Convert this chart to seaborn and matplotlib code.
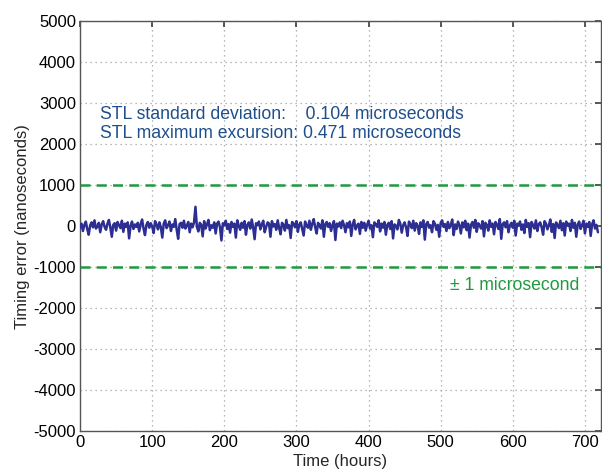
import numpy as np
import pandas as pd
import seaborn as sns
import matplotlib
matplotlib.use("Agg")
import matplotlib.pyplot as plt

# timing error (ns), one reading every 2 hours
hours_step = 2
timing_error = [
    -40, 60, -120, 30, 110, -80, -210, 20, 90, -30, 140, -60, -10, 80, -150, 40, 120, -20, -90, 60,
    150, -40, -260, 30, 70, -110, 100, 20, -50, 130, -140, 60, -20, 90, -300, 10, 110, -70, 40, -20,
    80, -130, 50, 160, -60, -220, 30, 100, -40, 70, -10, -170, 120, 40, -80, 90, -30, -280, 60, 140,
    -50, 20, 110, -120, 40, -20, 170, -90, -310, 50, 80, -40, 130, -60, 10, 100, -150, 60, -30, 90,
    471, -20, -130, 80, 30, -250, 120, -60, 40, 150, -100, 20, -40, 90, -180, 60, 110, -30, -350, 70,
    20, 130, -70, 50, -160, 100, -20, 60, -280, 140, 10, -90, 80, -40, 120, -210, 30, 90, -60, 160,
    -30, -320, 70, 20, 110, -80, 40, 130, -150, -20, 90, 60, -260, 120, -10, 50, -90, 140, -40, -200,
    80, 30, -110, 150, -50, 20, -290, 100, 60, -30, 120, -140, 40, 90, -70, -230, 110, 10, -40, 130,
    -90, 60, 170, -30, -180, 80, 20, -60, 140, -260, 50, 100, -20, 70, -120, 30, 120, -340, 60, -10,
    90, -50, 130, 20, -150, 70, -30, 110, -240, 40, 150, -80, 10, 60, -190, 100, -40, 80, -110, 30,
    130, -60, 20, -270, 90, 50, -20, 140, -130, 60, -40, 100, -210, 30, 80, -70, 120, -300, 40, 10,
    -80, 150, 60, -160, 20, 90, -30, -240, 110, 40, -50, 130, -110, 70, 10, -190, 90, -20, 140, -330,
    50, 100, -40, 20, -150, 120, 60, -90, 30, -260, 80, 140, -20, 50, -120, 100, -50, 30, 160, -220,
    40, -70, 110, 20, -180, 90, -30, 130, -100, 60, -280, 30, 100, -40, 150, -140, 70, 10, -60, 120,
    -250, 80, 30, -110, 140, -20, 60, -200, 100, 40, -70, 170, -310, 50, 90, -30, 120, -150, 20, 80,
    -40, 130, -230, 60, 10, 110, -90, 40, -170, 150, -20, 70, -270, 100, 30, -60, 140, -120, 50, 90,
    -30, -210, 120, 60, -80, 20, 160, -140, 50, -290, 90, 30, -50, 130, -100, 70, -230, 110, 10, 60,
    -120, 150, -40, 80, -260, 40, 110, -70, 20, 130, -180, 60, -20, 100, -240, 50, 140, -60, 30, -150,
]
limit_ns = [1000, -1000]
x_ticks = [0, 100, 200, 300, 400, 500, 600, 700]
y_ticks = [-5000, -4000, -3000, -2000, -1000, 0, 1000, 2000, 3000, 4000, 5000]
stats_lines = ["STL standard deviation:    0.104 microseconds",
               "STL maximum excursion: 0.471 microseconds"]
limit_label = "\u00b1 1 microsecond"

df = pd.DataFrame({"hours": np.arange(len(timing_error)) * hours_step,
                   "error": timing_error})

sns.set_theme(style="white")
plt.rcParams["font.family"] = ["Liberation Sans", "DejaVu Sans"]
plt.rcParams["axes.unicode_minus"] = False

fig = plt.figure(figsize=(6.02, 4.72), dpi=100)
ax = fig.add_axes([0.133, 0.087, 0.865, 0.868])

# grid first so it sits under everything
ax.grid(True, linestyle=(0, (1, 3)), color="#a0a0a0", linewidth=0.9)
ax.set_axisbelow(True)

sns.lineplot(data=df, x="hours", y="error", ax=ax, color="#2c2f91",
             linewidth=1.8, zorder=3)

for lim in limit_ns:
    ax.axhline(lim, color="#1f9a3e", linestyle=(0, (4, 2.5)), linewidth=1.8, zorder=4)

ax.set_xlim(0, 722)
ax.set_ylim(-5000, 5000)
ax.set_xticks(x_ticks)
ax.set_yticks(y_ticks)
ax.tick_params(direction="in", length=4, top=True, right=True,
               labelsize=12, colors="#444444", labelcolor="black", pad=3)
for s in ax.spines.values():
    s.set_color("#555555")
    s.set_linewidth(1.0)

ax.set_xlabel("Time (hours)", fontsize=12, labelpad=3)
ax.set_ylabel("Timing error (nanoseconds)", fontsize=12, labelpad=2)

ax.text(28, 2730, stats_lines[0], fontsize=12.7, color="#1f4e8c", va="center")
ax.text(28, 2270, stats_lines[1], fontsize=12.7, color="#1f4e8c", va="center")
ax.text(513, -1440, limit_label, fontsize=12.7, color="#1f9a3e", va="center")

fig.savefig("out.png", dpi=100)
